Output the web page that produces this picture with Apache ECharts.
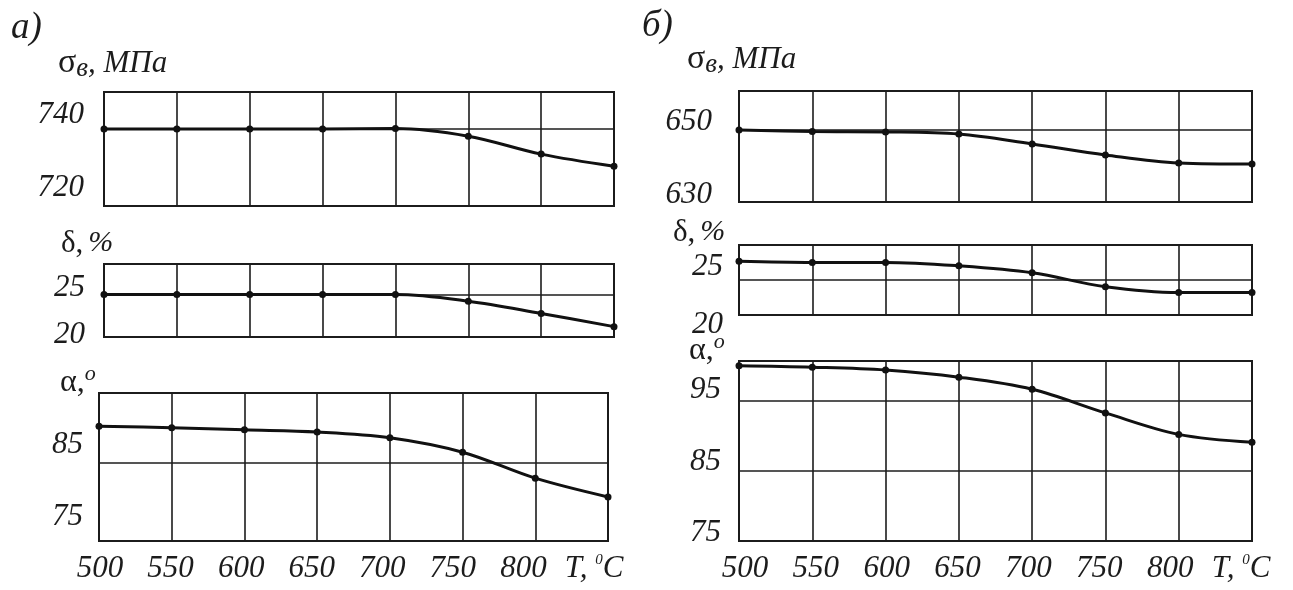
<!DOCTYPE html>
<html>
<head>
<meta charset="utf-8">
<script src="https://cdn.jsdelivr.net/npm/echarts@6/dist/echarts.min.js"></script>
<style>
  html, body { margin: 0; padding: 0; background: #fff; }
  #chart { width: 1293px; height: 590px; }
</style>
</head>
<body>
<div id="chart"></div>
<script>
// температура отпуска
var temps = [500, 550, 600, 650, 700, 750, 800, 850];
var tempLabels = ["500", "550", "600", "650", "700", "750", "800", "T, °C"];

// а) сталь 1
var strengthA = [736.2, 736.2, 736.2, 736.2, 736.3, 734.2, 729.3, 726.0];
var elongA = [24.3, 24.3, 24.3, 24.3, 24.3, 23.6, 22.3, 20.9];
var impactA = [87.6, 87.4, 87.1, 86.8, 86.0, 84.0, 80.4, 77.8];

// б) сталь 2
var strengthB = [647.8, 647.4, 647.3, 646.7, 644.0, 641.0, 638.8, 638.5];
var elongB = [25.5, 25.4, 25.4, 25.1, 24.5, 23.3, 22.8, 22.8];
var impactB = [98.4, 98.2, 97.8, 96.8, 95.1, 91.8, 88.8, 87.7];

// подписи шкал
var strengthTicksA = [720, 740];
var strengthTicksB = [630, 650];
var elongTicks = [20, 25];
var impactTicksA = [75, 85];
var impactTicksB = [75, 85, 95];

var INK = "#1c1c1c";
var FONT = "'Liberation Serif', 'DejaVu Serif', serif";

// панели: рамка, шкала, внутренние линии сетки
var panels = [
  { box: [104, 92, 510, 114], min: 715.1, max: 746.3, lines: [736.2], ticks: strengthTicksA, data: strengthA, margin: 20 },
  { box: [104, 264, 510, 73], min: 19.8, max: 27.55, lines: [24.26], ticks: elongTicks, data: elongA, margin: 19 },
  { box: [99, 393, 509, 148], min: 71.7, max: 92.2, lines: [82.5], ticks: impactTicksA, data: impactA, margin: 16 },
  { box: [739, 91, 513, 111], min: 628.1, max: 658.5, lines: [647.8], ticks: strengthTicksB, data: strengthB, margin: 27 },
  { box: [739, 245, 513, 70], min: 20.86, max: 26.9, lines: [23.88], ticks: elongTicks, data: elongB, margin: 16 },
  { box: [739, 361, 513, 180], min: 73.9, max: 99.06, lines: [93.46, 83.74], ticks: impactTicksB, data: impactB, margin: 18 }
];

var grid = [], xAxis = [], yAxis = [], series = [];

panels.forEach(function (p) {
  var gi = grid.length;
  grid.push({
    left: p.box[0], top: p.box[1], width: p.box[2], height: p.box[3],
    show: true, borderColor: INK, borderWidth: 2, backgroundColor: "transparent"
  });
  xAxis.push({
    gridIndex: gi, type: "value", min: 500, max: 850, interval: 50,
    axisLine: { show: false }, axisTick: { show: false }, axisLabel: { show: false },
    splitLine: { show: true, lineStyle: { color: INK, width: 1.6 } }
  });
  yAxis.push({
    gridIndex: gi, type: "value", min: p.min, max: p.max,
    axisLine: { show: false }, axisTick: { show: false }, axisLabel: { show: false },
    splitLine: { show: false }
  });
  series.push({
    type: "line",
    xAxisIndex: gi, yAxisIndex: gi,
    data: temps.map(function (t, k) { return [t, p.data[k]]; }),
    smooth: 0.35,
    symbol: "circle", symbolSize: 7,
    lineStyle: { color: "#111", width: 3 },
    itemStyle: { color: "#111" },
    markLine: {
      silent: true, symbol: "none", label: { show: false },
      lineStyle: { color: INK, width: 1.6, type: "solid" },
      data: p.lines.map(function (v) { return { yAxis: v }; })
    },
    z: 5
  });

  // шкала подписей (тот же масштаб, может выходить за рамку)
  var ppu = p.box[3] / (p.max - p.min);
  var lo = Math.min(p.min, Math.min.apply(null, p.ticks));
  var hi = Math.max(p.max, Math.max.apply(null, p.ticks));
  var li = grid.length;
  grid.push({
    left: p.box[0], width: p.box[2],
    top: p.box[1] - (hi - p.max) * ppu,
    height: (hi - lo) * ppu,
    show: false
  });
  xAxis.push({ gridIndex: li, type: "value", min: 500, max: 850, show: false });
  yAxis.push({
    gridIndex: li, type: "value", min: lo, max: hi,
    axisLine: { show: false }, axisTick: { show: false }, splitLine: { show: false },
    axisLabel: {
      customValues: p.ticks, margin: p.margin,
      fontFamily: FONT, fontStyle: "italic", fontSize: 31, color: INK
    }
  });
});

// подписи оси температур
[[100, 494], [745, 496]].forEach(function (pos) {
  var gi = grid.length;
  grid.push({ left: pos[0], width: pos[1], top: 500, height: 41, show: false });
  xAxis.push({
    gridIndex: gi, type: "category", data: tempLabels, boundaryGap: false,
    axisLine: { show: false }, axisTick: { show: false },
    axisLabel: {
      interval: 0, margin: 12,
      fontFamily: FONT, fontStyle: "italic", fontSize: 31, color: INK,
      formatter: function (v) { return v.replace("°", "{d|0}"); },
      rich: { d: { fontFamily: FONT, fontStyle: "italic", fontSize: 15, color: INK, verticalAlign: "top", padding: [0, 0, 14, 0] } }
    }
  });
  yAxis.push({ gridIndex: gi, type: "value", show: false });
});

var sigRich = {
  s: { fontFamily: FONT, fontWeight: "normal", fontSize: 34, color: INK },
  v: { fontFamily: FONT, fontWeight: "normal", fontStyle: "italic", fontSize: 27, color: INK, padding: [10, 0, 0, 0] },
  t: { fontFamily: FONT, fontWeight: "normal", fontStyle: "italic", fontSize: 31, color: INK }
};
var deltaRich = {
  d: { fontFamily: FONT, fontWeight: "normal", fontSize: 31, color: INK },
  t: { fontFamily: FONT, fontWeight: "normal", fontStyle: "italic", fontSize: 30, color: INK }
};
var alphaRich = {
  a: { fontFamily: FONT, fontWeight: "normal", fontSize: 32, color: INK },
  o: { fontFamily: FONT, fontWeight: "normal", fontStyle: "italic", fontSize: 22, color: INK, padding: [0, 0, 18, 0] }
};
var plain = { fontFamily: FONT, fontStyle: "italic", fontSize: 37, color: INK, fontWeight: "normal" };

var title = [
  { text: "а)", left: 6, top: 5, textStyle: plain },
  { text: "б)", left: 637, top: 3, textStyle: plain },
  { text: "{s|σ}{v|в}{t|, МПа}", left: 53, top: 40, textStyle: { rich: sigRich } },
  { text: "{s|σ}{v|в}{t|, МПа}", left: 682, top: 36, textStyle: { rich: sigRich } },
  { text: "{d|δ,} {t|%}", left: 56, top: 223, textStyle: { rich: deltaRich } },
  { text: "{d|δ,} {t|%}", left: 668, top: 212, textStyle: { rich: deltaRich } },
  { text: "{a|α,}{o|o}", left: 55, top: 358, textStyle: { rich: alphaRich } },
  { text: "{a|α,}{o|o}", left: 684, top: 326, textStyle: { rich: alphaRich } }
];

var chart = echarts.init(document.getElementById("chart"));
chart.setOption({
  backgroundColor: "#ffffff",
  animation: false,
  title: title,
  grid: grid,
  xAxis: xAxis,
  yAxis: yAxis,
  series: series
});
</script>
</body>
</html>
